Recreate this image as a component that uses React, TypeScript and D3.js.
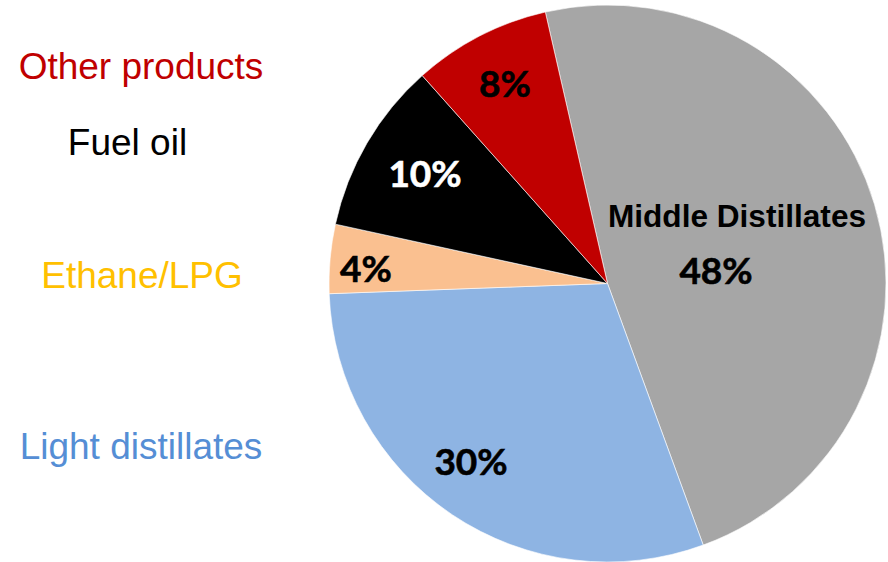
import React from "react";
import * as d3 from "d3";

const categories = ["Middle Distillates", "Light distillates", "Ethane/LPG", "Fuel oil", "Other products"];
const shares = [48, 30, 4, 10, 8];
const sliceColors = ["#A6A6A6", "#8EB4E3", "#FAC090", "#000000", "#C00000"];
const legendColors = ["#000000", "#558ED5", "#FFC000", "#000000", "#C00000"];
const pctColors = ["#000000", "#000000", "#000000", "#FFFFFF", "#000000"];

const W = 888, H = 562;
const cx = 607.5, cy = 283.5, R = 278.5;
const startDeg = -12.9;

// label positions (relative to pie center) and legend placements
const pctPos: [number, number][] = [[108.5, 0], [-136.5, 191.5], [-241.5, -1.5], [-182.5, -96.5], [-102.5, -186.5]];
const legendPos: [number, number][] = [[0, 0], [141, 459], [142, 288], [127.5, 155], [141, 79]];

export default function App() {
  const pie = d3.pie<number>().sort(null).value((d) => d)
    .startAngle((startDeg * Math.PI) / 180)
    .endAngle((startDeg * Math.PI) / 180 + 2 * Math.PI);
  const arcs = pie(shares);
  const arc = d3.arc<d3.PieArcDatum<number>>().innerRadius(0).outerRadius(R);

  return (
    <svg width={W} height={H} style={{ position: "absolute", left: 0, top: 0 }}>
      <rect width={W} height={H} fill="#fff" />
      <g transform={`translate(${cx},${cy})`}>
        {arcs.map((a, i) => (
          <path key={i} d={arc(a) || ""} fill={sliceColors[i]} stroke="#fff" strokeWidth={0.6} />
        ))}
        <text x={129.5} y={-56.5} textAnchor="middle" fontFamily="Liberation Sans, Arial, sans-serif" fontWeight="bold" fontSize={31.6} fill="#000">
          {categories[0]}
        </text>
        {arcs.map((a, i) => (
          <text key={"p" + i} x={pctPos[i][0]} y={pctPos[i][1]} textAnchor="middle" fontFamily="Lato, sans-serif" fontWeight="bold" fontSize={37} fill={pctColors[i]} stroke={pctColors[i]} strokeWidth={0.6}>
            {shares[i]}%
          </text>
        ))}
      </g>
      {categories.map((c, i) =>
        i === 0 ? null : (
          <text key={"l" + i} x={legendPos[i][0]} y={legendPos[i][1]} textAnchor="middle" fontFamily="Liberation Sans, Arial, sans-serif" fontSize={37} fill={legendColors[i]}>
            {c}
          </text>
        )
      )}
    </svg>
  );
}
